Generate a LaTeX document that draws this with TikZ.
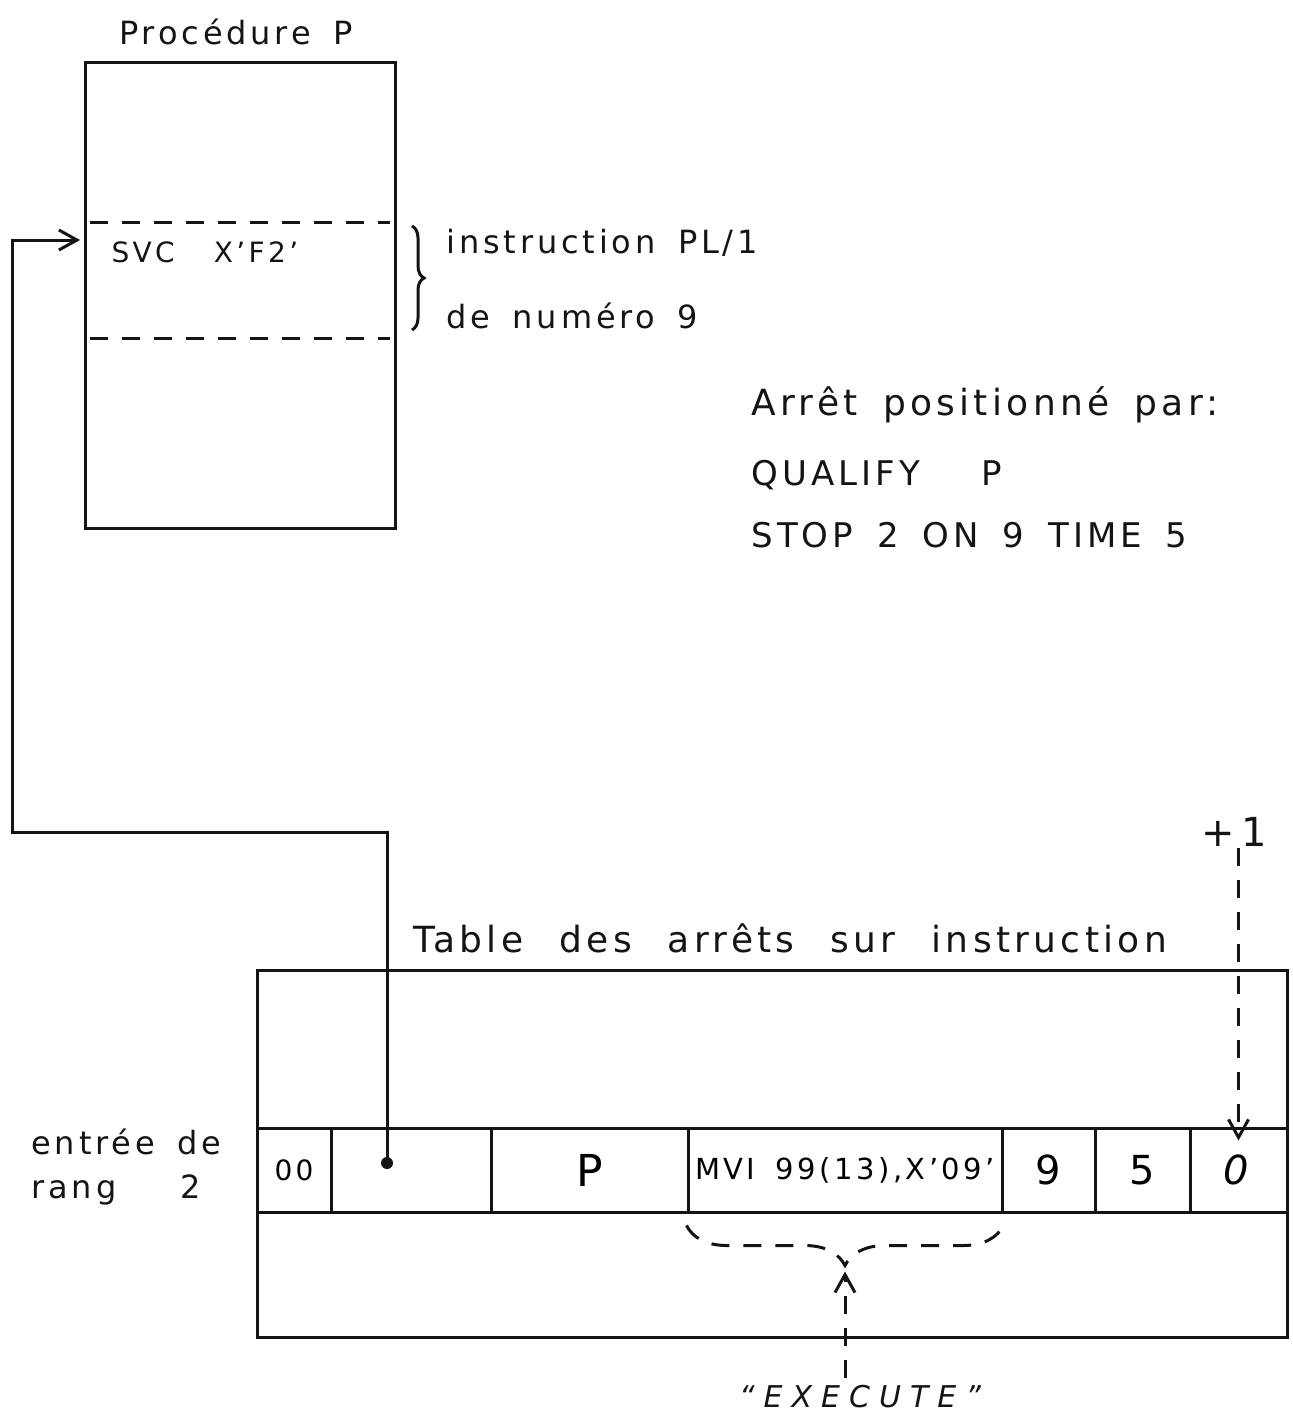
\documentclass[tikz,border=0pt]{standalone}
\usepackage{fontspec}
\setmainfont[LetterSpace=12,WordSpace=1.6]{DejaVu Sans}
\newfontfamily\espace[LetterSpace=30]{DejaVu Sans}
\usetikzlibrary{arrows.meta,decorations.pathreplacing,calc}
\definecolor{encre}{RGB}{20,20,20}

\newcommand{\taille}[1]{\fontsize{#1}{#1}\selectfont}

\tikzset{
  texte/.style={inner sep=0pt, anchor=west, text=encre},
  fleche/.style={-{Straight Barb[length=9pt,width=10pt,line width=1.5pt]}},
  pointille/.style={dash pattern=on 9pt off 7pt},
  case/.style={draw=encre, minimum height=42pt, inner sep=0pt, anchor=center}
}

\begin{document}
\begin{tikzpicture}[x=0.5pt, y=-0.5pt, line width=1.5pt, draw=encre]
        \useasboundingbox (0,0) rectangle (1293,1419);
        % procedure P
        \node[texte, anchor=center, font=\taille{16}] (titre) at (236,32) {Procédure P};
        \node[draw, minimum width=155pt, minimum height=233pt, inner sep=0pt] (proc) at (240,295) {};
        \draw[pointille] (90,222) -- (390,222);
        \draw[pointille] (90,338) -- (390,338);
        \node[texte, font=\taille{14}] (svc) at (110,252) {SVC\hspace{1.4em}X'F2'};
        \draw[decorate, decoration={brace, amplitude=6pt}] (412,226) -- (412,330);
        \node[texte, font=\taille{16}] (instr) at (445,243) {instruction PL/1};
        \node[texte, font=\taille{16}] (numero) at (445,316) {de numéro 9};
        % arret
        \node[texte, font=\taille{18}] (arret) at (750,405) {Arrêt positionné par:};
        \node[texte, font=\taille{17}] (qualify) at (750,475) {QUALIFY\hspace{1.8em}P};
        \node[texte, font=\taille{17}] (stop) at (750,535) {STOP 2 ON 9 TIME 5};
        % table des arrets
        \node[texte, anchor=center, font=\taille{18}] (tabtitre) at (790,938) {Table\hspace{1em}des\hspace{1em}arrêts\hspace{1em}sur\hspace{1em}instruction};
        \node[draw, minimum width=515pt, minimum height=183.5pt, inner sep=0pt] (table) at (772,1153.5) {};
        \node[case, minimum width=37pt, font=\taille{14}] (c1) at (294,1170) {00};
        \node[case, minimum width=80pt] (c2) at (411,1170) {};
        \node[case, minimum width=98.5pt, font=\taille{22}] (c3) at (589.5,1170) {P};
        \node[case, minimum width=157pt, font=\taille{14.5}] (c4) at (845,1170) {MVI 99(13),X'09'};
        \node[case, minimum width=46.5pt, font=\taille{20}] (c5) at (1048.5,1170) {9};
        \node[case, minimum width=47.5pt, font=\taille{20}] (c6) at (1142.5,1170) {5};
        \node[case, minimum width=48.5pt, font=\taille{20}] (c7) at (1238.5,1170) {\textit{0}};
        \node[texte, font=\taille{16}] (entree1) at (30,1142) {entrée de};
        \node[texte, font=\taille{16}] (entree2) at (30,1190) {rang\hspace{2em}2};
        % pointeur vers l'instruction
        \coordinate (ptr) at (387,1163);
        \coordinate (coude) at (12,832);
        \coordinate (entree) at (80,240);
        \fill[encre] (ptr) circle (3pt);
        \draw[fleche] (ptr) |- (coude) |- (entree);
        % +1
        \node[texte, anchor=center, font=\taille{20}] (plus) at (1234,832) {+\,1};
        \draw[pointille, fleche] (c7.north |- plus.south) -- ([yshift=-7pt]c7.north);
        % execute
        \draw[pointille, decorate, decoration={brace, mirror, amplitude=20pt}] ([yshift=-6pt]c4.south west) -- ([yshift=-6pt]c4.south east);
        \coordinate (pointe) at ($(c4.south)+(0,58)$);
        \node[texte, anchor=center, font=\taille{15}\espace\itshape] (exec) at (860,1397) {“EXECUTE”};
        \draw[pointille, fleche] ($(pointe |- exec.base)+(0,-30)$) -- (pointe);
      \end{tikzpicture}
\end{document}
